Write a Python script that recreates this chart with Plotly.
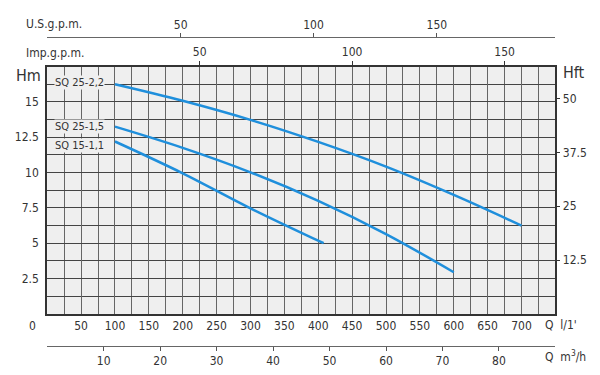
import plotly.graph_objects as go

# ---- data (flow in l/min, head in m) ----
q_22 = [100, 200, 300, 400, 500, 600, 700]
h_22 = [16.25, 15.08, 13.73, 12.17, 10.42, 8.42, 6.25]

q_15 = [100, 200, 300, 400, 500, 600]
h_15 = [13.25, 11.75, 10.02, 8.0, 5.65, 2.95]

q_11 = [100, 200, 300, 408]
h_11 = [12.2, 9.95, 7.47, 5.0]

series_names = ["SQ 25-2,2", "SQ 25-1,5", "SQ 15-1,1"]

# axis ticks
lmin_ticks = [50, 100, 150, 200, 250, 300, 350, 400, 450, 500, 550, 600, 650, 700]
hm_ticks = [2.5, 5, 7.5, 10, 12.5, 15]
hm_text = ["2.5", "5", "7.5", "10", "12.5", "15"]
hft_ticks = [12.5, 25, 37.5, 50]
hft_text = ["12.5", "25", "37.5", "50"]
imp_ticks = [50, 100, 150]
us_ticks_lmin = [197, 393, 575]   # where the US gpm ticks sit on the l/min scale
us_text = ["50", "100", "150"]
m3h_ticks = [10, 20, 30, 40, 50, 60, 70, 80]

Q_MAX = 750.0
H_MAX = 17.5
FT_PER_M = 3.28084
LMIN_PER_IMP = 4.5
LMIN_PER_M3H = 8.3333

# page body has an 8px margin; figure sized to fit inside the window
OFF = 8
W, H = 584, 359
FONT = "DejaVu Sans Condensed, Liberation Sans Narrow, Roboto, sans-serif"
TXT = "#333333"
BLUE = "#1f8fdc"

def px(x):
    return (x - OFF) / W

def py(y):
    return 1 - (y - OFF) / H

x0, x1 = 47.2, 555.4
y_top, y_bot = 66.6, 313.9
xdom = [px(x0), px(x1)]
ydom = [py(y_bot), py(y_top)]

fig = go.Figure()
for q, h in [(q_22, h_22), (q_15, h_15), (q_11, h_11)]:
    fig.add_trace(go.Scatter(x=q, y=h, mode="lines",
                             line=dict(color=BLUE, width=2.5, shape="spline", smoothing=1.0),
                             showlegend=False, hoverinfo="skip"))

# dummy traces to activate extra axes
fig.add_trace(go.Scatter(x=[None], y=[None], xaxis="x2", yaxis="y", showlegend=False))
fig.add_trace(go.Scatter(x=[None], y=[None], xaxis="x3", yaxis="y", showlegend=False))
fig.add_trace(go.Scatter(x=[None], y=[None], xaxis="x4", yaxis="y", showlegend=False))
fig.add_trace(go.Scatter(x=[None], y=[None], xaxis="x", yaxis="y2", showlegend=False))

tickfont = dict(family=FONT, size=12, color=TXT)

fig.update_layout(
    width=W, height=H,
    margin=dict(l=0, r=0, t=0, b=0),
    paper_bgcolor="white",
    plot_bgcolor="#efefef",
    font=dict(family=FONT, size=12, color=TXT),
    xaxis=dict(domain=xdom, range=[0, Q_MAX], tickmode="array", tickvals=lmin_ticks,
               ticktext=[str(v) for v in lmin_ticks], ticks="", tickfont=tickfont,
               showline=True, mirror=True, linecolor="#333333", linewidth=2,
               zeroline=False, gridcolor="#666666", gridwidth=1.3,
               minor=dict(dtick=25, tick0=0, showgrid=True, gridcolor="#666666", gridwidth=1.3),
               anchor="y", fixedrange=True),
    yaxis=dict(domain=ydom, range=[0, H_MAX], tickmode="array", tickvals=hm_ticks, ticktext=hm_text,
               ticks="", tickfont=tickfont, showline=True, mirror=True, linecolor="#333333", linewidth=2,
               zeroline=False, gridcolor="#444444", gridwidth=1,
               minor=dict(dtick=1.25, tick0=0, showgrid=True, gridcolor="#444444", gridwidth=1),
               anchor="x", ticklabelstandoff=4),
    yaxis2=dict(overlaying="y", side="right", anchor="x", range=[0, H_MAX * FT_PER_M],
                tickmode="array", tickvals=hft_ticks, ticktext=hft_text, ticks="outside", ticklen=4,
                tickcolor="#333333", tickfont=tickfont, showgrid=False, zeroline=False, showline=False),
    xaxis2=dict(overlaying="x", side="top", anchor="y", range=[0, Q_MAX / LMIN_PER_IMP],
                tickmode="array", tickvals=imp_ticks, ticktext=[str(v) for v in imp_ticks],
                ticks="outside", ticklen=5, tickcolor="#333333", tickfont=tickfont,
                showgrid=False, zeroline=False, showline=False),
    xaxis3=dict(overlaying="x", side="top", anchor="free", position=py(37.3), range=[0, Q_MAX],
                tickmode="array", tickvals=us_ticks_lmin, ticktext=us_text,
                ticks="outside", ticklen=4, tickcolor="#555555", tickfont=tickfont,
                showgrid=False, zeroline=False, showline=True, linecolor="#666666", linewidth=1),
    xaxis4=dict(overlaying="x", side="bottom", anchor="free", position=py(345.7),
                range=[0, Q_MAX / LMIN_PER_M3H],
                tickmode="array", tickvals=m3h_ticks, ticktext=[str(v) for v in m3h_ticks],
                ticks="outside", ticklen=4, tickcolor="#555555", tickfont=tickfont,
                showgrid=False, zeroline=False, showline=True, linecolor="#666666", linewidth=1),
)

ann = []
def text(x, y, s, size=12, xanchor="left"):
    ann.append(dict(x=px(x), y=py(y), xref="paper", yref="paper", text=s, showarrow=False,
                    xanchor=xanchor, yanchor="middle", font=dict(family=FONT, size=size, color=TXT)))

text(24, 24, "U.S.g.p.m.")
text(24, 53, "Imp.g.p.m.")
text(43, 75, "Hm", size=16, xanchor="right")
text(561, 73, "Hft", size=16)
text(38, 326, "0", xanchor="right")
text(543, 325, "Q  l/1'")
text(543, 356, "Q  m<sup>3</sup>/h")

label_y = [16.35, 13.25, 11.9]
for name, yv in zip(series_names, label_y):
    ann.append(dict(x=86, y=yv, xref="x", yref="y", text=name, showarrow=False, xanchor="right",
                    yanchor="middle", bgcolor="#efefef", borderpad=0,
                    font=dict(family=FONT, size=11, color=TXT)))

fig.update_layout(annotations=ann)
fig.write_html("out.html")
